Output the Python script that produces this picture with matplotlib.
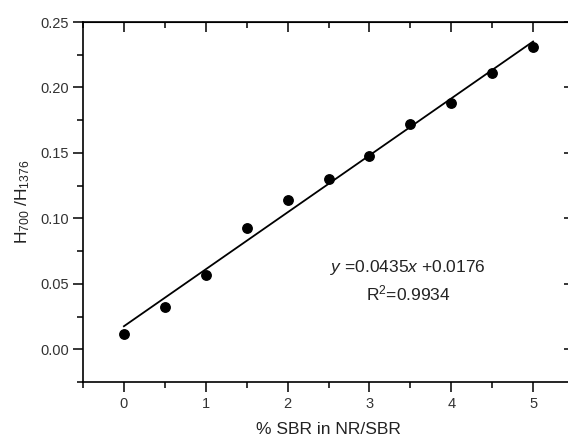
import numpy as np
import matplotlib
matplotlib.use("Agg")
import matplotlib.pyplot as plt
from matplotlib.ticker import MultipleLocator, FormatStrFormatter

# data
sbr_pct = [0, 0.5, 1, 1.5, 2, 2.5, 3, 3.5, 4, 4.5, 5]
h_ratio = [0.0115, 0.032, 0.057, 0.093, 0.114, 0.130, 0.148, 0.172, 0.188, 0.211, 0.231]
slope = 0.0435
intercept = 0.0176
fit_x = [0, 5]

plt.rcParams['font.family'] = ['Liberation Sans', 'DejaVu Sans']
plt.rcParams['mathtext.fontset'] = 'custom'
plt.rcParams['mathtext.rm'] = 'Liberation Sans'
plt.rcParams['mathtext.it'] = 'Liberation Sans:italic'

fig = plt.figure(figsize=(5.68, 4.38), dpi=100)
W, H = 568, 438
left, right, top, bottom = 83, 574, 22, 382
ax = fig.add_axes([left / W, 1 - bottom / H, (right - left) / W, (bottom - top) / H])

ax.plot(sbr_pct, h_ratio, 'o', color='black', markersize=6.8)
fx = np.array(fit_x, dtype=float)
ax.plot(fx, slope * fx + intercept, '-', color='black', linewidth=1.3)

ax.set_xlim(-0.5, 5.5)
ax.set_ylim(-0.025, 0.25)
ax.xaxis.set_major_locator(MultipleLocator(1))
ax.xaxis.set_minor_locator(MultipleLocator(0.5))
ax.yaxis.set_major_locator(MultipleLocator(0.05))
ax.yaxis.set_minor_locator(MultipleLocator(0.025))
ax.yaxis.set_major_formatter(FormatStrFormatter('%.2f'))

ax.tick_params(which='major', direction='out', length=7, width=1.1, labelsize=10.5,
               labelcolor='#333333')
ax.tick_params(axis='x', which='major', pad=4)
ax.tick_params(axis='y', which='major', pad=3)
ax.tick_params(which='minor', direction='out', length=4, width=1.1)

# inward ticks on top and right
for loc in ('top', 'right'):
    if loc == 'top':
        sec = ax.secondary_xaxis('top')
        sec.xaxis.set_major_locator(MultipleLocator(1))
        sec.xaxis.set_minor_locator(MultipleLocator(0.5))
    else:
        sec = ax.secondary_yaxis('right')
        sec.yaxis.set_major_locator(MultipleLocator(0.05))
        sec.yaxis.set_minor_locator(MultipleLocator(0.025))
    sec.tick_params(which='major', direction='in', length=7, width=1.1,
                    labeltop=False, labelright=False)
    sec.tick_params(which='minor', direction='in', length=4, width=1.1)

for s in ax.spines.values():
    s.set_linewidth(1.2)

ax.set_xlabel('% SBR in NR/SBR', fontsize=12.5, color='#222222', labelpad=8)
ax.set_ylabel(r'H$_{700}$ /H$_{1376}$', fontsize=12.5, color='#222222', labelpad=6)

ax.text(3.47, 0.0625, r'$y$ =0.0435$x$ +0.0176', ha='center', va='center',
        fontsize=12.5, color='#222222')
ax.text(3.47, 0.0425, r'R$^2$=0.9934', ha='center', va='center',
        fontsize=12.5, color='#222222')

fig.savefig('out.png', dpi=100)
